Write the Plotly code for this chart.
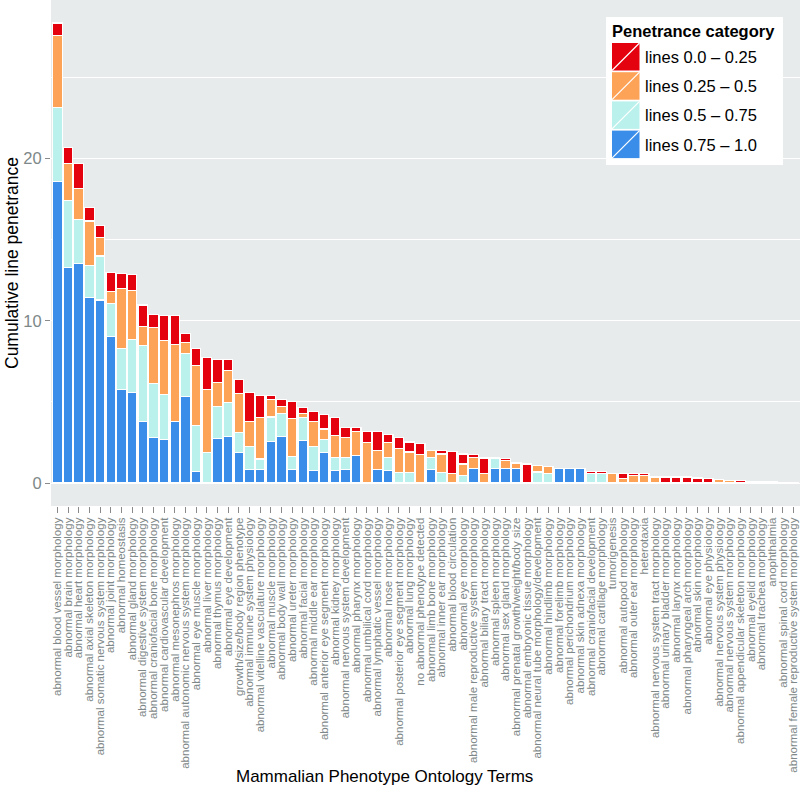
import plotly.graph_objects as go

categories = [
    "abnormal blood vessel morphology", "abnormal brain morphology", "abnormal heart morphology",
    "abnormal axial skeleton morphology", "abnormal somatic nervous system morphology",
    "abnormal joint morphology", "abnormal homeostasis", "abnormal gland morphology",
    "abnormal digestive system morphology", "abnormal craniofacial bone morphology",
    "abnormal cardiovascular development", "abnormal mesonephros morphology",
    "abnormal autonomic nervous system morphology", "abnormal eye muscle morphology",
    "abnormal liver morphology", "abnormal thymus morphology", "abnormal eye development",
    "growth/size/body region phenotype", "abnormal immune system physiology",
    "abnormal vitelline vasculature morphology", "abnormal muscle morphology",
    "abnormal body wall morphology", "abnormal ureter morphology", "abnormal facial morphology",
    "abnormal middle ear morphology", "abnormal anterior eye segment morphology",
    "abnormal kidney morphology", "abnormal nervous system development",
    "abnormal pharynx morphology", "abnormal umbilical cord morphology",
    "abnormal lymphatic vessel morphology", "abnormal nose morphology",
    "abnormal posterior eye segment morphology", "abnormal lung morphology",
    "no abnormal phenotype detected", "abnormal limb bone morphology",
    "abnormal inner ear morphology", "abnormal blood circulation", "abnormal eye morphology",
    "abnormal male reproductive system morphology", "abnormal biliary tract morphology",
    "abnormal spleen morphology", "abnormal sex gland morphology",
    "abnormal prenatal growth/weight/body size", "abnormal embryonic tissue morphology",
    "abnormal neural tube morphology/development", "abnormal hindlimb morphology",
    "abnormal forelimb morphology", "abnormal perichondrium morphology",
    "abnormal skin adnexa morphology", "abnormal craniofacial development",
    "abnormal cartilage morphology", "tumorigenesis", "abnormal autopod morphology",
    "abnormal outer ear morphology", "heterotaxia", "abnormal nervous system tract morphology",
    "abnormal urinary bladder morphology", "abnormal larynx morphology",
    "abnormal pharyngeal arch morphology", "abnormal skin morphology", "abnormal eye physiology",
    "abnormal nervous system physiology", "abnormal nervous system morphology",
    "abnormal appendicular skeleton morphology", "abnormal eyelid morphology",
    "abnormal trachea morphology", "anophthalmia", "abnormal spinal cord morphology",
    "abnormal female reproductive system morphology",
]

# penetrance 0.75 - 1.0
blue = [18.56, 13.27, 13.54, 11.46, 11.28, 9.05, 5.76, 5.6, 3.81, 2.82,
        2.7, 3.81, 5.31, 0.7, 0, 2.72, 2.88, 1.89, 0.86, 0.86,
        2.57, 2.88, 0.86, 2.61, 0.78, 1.89, 0.78, 0.86, 1.71, 0,
        0.86, 0.78, 0, 0, 0, 0.86, 0, 0, 0, 0.88,
        0, 0.88, 0.88, 0.88, 0, 0, 0, 0.88, 0.88, 0.88,
        0, 0, 0, 0, 0, 0, 0, 0, 0, 0,
        0, 0, 0, 0, 0, 0, 0, 0, 0, 0]
# penetrance 0.5 - 0.75
cyan = [4.59, 4.13, 2.71, 1.94, 2.71, 2.02, 2.53, 3.25, 4.67, 3.29,
        2.73, 0, 2.65, 2.84, 1.89, 2.01, 2.06, 1.2, 1.4, 0.62,
        1.5, 1.38, 0.79, 1.4, 1.48, 0.78, 0.8, 0.72, 0, 0,
        0, 0.8, 0.62, 0.66, 0, 0.72, 0.66, 0, 0.45, 0,
        0, 0.66, 0, 0, 0, 0.68, 0.56, 0, 0, 0,
        0.58, 0.58, 0, 0, 0, 0, 0, 0, 0, 0,
        0, 0, 0, 0, 0, 0, 0, 0, 0, 0]
# penetrance 0.25 - 0.5
orange = [4.42, 2.3, 1.9, 2.75, 1.13, 0.76, 3.69, 3.02, 1.19, 3.46,
          3.36, 4.73, 0.68, 3.7, 3.85, 1.44, 1.99, 2.4, 1.51, 2.53,
          1.07, 0.47, 2.32, 0.25, 1.51, 0.66, 1.34, 1.2, 1.48, 2.47,
          1.14, 0.89, 1.48, 1.25, 1.75, 0.44, 1.13, 0.58, 0.72, 0.7,
          0.58, 0, 0.5, 0.35, 0, 0.39, 0.47, 0, 0, 0,
          0, 0, 0.58, 0.27, 0.45, 0.45, 0.37, 0, 0, 0,
          0, 0, 0.21, 0.16, 0, 0, 0, 0, 0, 0]
# penetrance 0.0 - 0.25
red = [0.78, 1.0, 1.55, 0.83, 0.76, 1.13, 0.92, 0.97, 1.3, 0.82,
       1.54, 1.79, 0.6, 1.03, 1.98, 1.42, 0.66, 0.89, 1.83, 1.38,
       0.23, 0.41, 1.03, 0.37, 0.63, 0.87, 1.09, 0.66, 0.21, 0.72,
       1.19, 0.51, 0.68, 0.62, 0.66, 0, 0.23, 1.37, 0.62, 0.17,
       0.96, 0, 0.12, 0, 1.17, 0, 0, 0, 0, 0,
       0.14, 0.14, 0, 0.31, 0.12, 0.12, 0, 0.37, 0.37, 0.37,
       0.31, 0.27, 0, 0, 0.14, 0.10, 0.08, 0.08, 0.04, 0.02]

legend_labels = ["lines 0.0 \u2013 0.25", "lines 0.25 \u2013 0.5",
                 "lines 0.5 \u2013 0.75", "lines 0.75 \u2013 1.0"]
C_RED, C_ORANGE, C_CYAN, C_BLUE = "#E3020D", "#FDA358", "#BAF1EC", "#3A8DE8"

W, H = 800, 803
ML, MR, MT, MB = 51, 0, 0, 297
PW, PH = W - ML - MR, H - MT - MB


def px(x):
    return (x - ML) / PW


def py(y):
    return (H - MB - y) / PH


fig = go.Figure()
for vals, col, name in [(blue, C_BLUE, legend_labels[3]), (cyan, C_CYAN, legend_labels[2]),
                        (orange, C_ORANGE, legend_labels[1]), (red, C_RED, legend_labels[0])]:
    fig.add_trace(go.Bar(
        x=categories, y=vals, name=name, marker=dict(color=col, line=dict(color="white", width=1.1)),
        width=0.9, showlegend=False,
    ))

ymax = max(b + c + o + r for b, c, o, r in zip(blue, cyan, orange, red))
pad = ymax * 0.05

font = "Liberation Sans, Arial, Helvetica, sans-serif"
tickgray = "#7E8888"

shapes = []
annotations = []
# legend box
shapes.append(dict(type="rect", xref="paper", yref="paper", x0=px(606), x1=px(783), y0=py(165), y1=py(17),
                   fillcolor="white", line=dict(width=0), layer="above"))
annotations.append(dict(xref="paper", yref="paper", x=px(610), y=py(31), xanchor="left", yanchor="middle",
                        text="<b>Penetrance category</b>", showarrow=False,
                        font=dict(family=font, size=16.5, color="black")))
for i, (lab, col) in enumerate(zip(legend_labels, [C_RED, C_ORANGE, C_CYAN, C_BLUE])):
    top = 43 + i * 29.2
    x0, x1, y0, y1 = 612, 639.5, top, top + 27.5
    shapes.append(dict(type="rect", xref="paper", yref="paper", x0=px(x0), x1=px(x1), y0=py(y1), y1=py(y0),
                       fillcolor=col, line=dict(width=0), layer="above"))
    shapes.append(dict(type="line", xref="paper", yref="paper", x0=px(x0), x1=px(x1), y0=py(y1), y1=py(y0),
                       line=dict(color="white", width=1.2), layer="above"))
    annotations.append(dict(xref="paper", yref="paper", x=px(643), y=py(top + 14), xanchor="left",
                            yanchor="middle", text=lab, showarrow=False,
                            font=dict(family=font, size=16.5, color="black")))

annotations.append(dict(xref="paper", yref="paper", x=px(12), y=py(263), xanchor="center", yanchor="middle",
                        text="Cumulative line penetrance", textangle=-90, showarrow=False,
                        font=dict(family=font, size=17.5, color="black")))
annotations.append(dict(xref="paper", yref="paper", x=px(384), y=py(776), xanchor="center", yanchor="middle",
                        text="Mammalian Phenotype Ontology Terms", showarrow=False,
                        font=dict(family=font, size=17, color="black")))

fig.update_layout(
    width=W, height=H,
    margin=dict(l=ML, r=MR, t=MT, b=MB, autoexpand=False),
    barmode="stack", bargap=0.1,
    paper_bgcolor="white", plot_bgcolor="#E8EBEB",
    font=dict(family=font),
    shapes=shapes, annotations=annotations,
    xaxis=dict(
        type="category", categoryorder="array", categoryarray=categories,
        range=[-0.6, len(categories) - 0.4],
        tickmode="linear", tick0=0, dtick=1,
        showgrid=False, zeroline=False, showline=False,
        ticks="outside", ticklen=6, tickwidth=1.4, tickcolor="#8A8A8A",
        tickangle=-90, tickfont=dict(family=font, size=11.5, color=tickgray),
        automargin=False,
    ),
    yaxis=dict(
        range=[-pad, ymax + pad],
        tickvals=[0, 10, 20], ticktext=["0", "10", "20"],
        showgrid=True, gridcolor="white", gridwidth=1.3, zeroline=False, showline=False,
        ticks="outside", ticklen=5, tickwidth=1.4, tickcolor="#8A8A8A",
        tickfont=dict(family=font, size=16.5, color=tickgray),
        minor=dict(tickvals=[5, 15, 25], showgrid=True, gridcolor="white", gridwidth=0.7, ticks=""),
        automargin=False,
    ),
)

fig.write_html("out.html", config={"displayModeBar": False},
               post_script="document.body.style.margin='0';document.body.style.overflow='hidden';")
